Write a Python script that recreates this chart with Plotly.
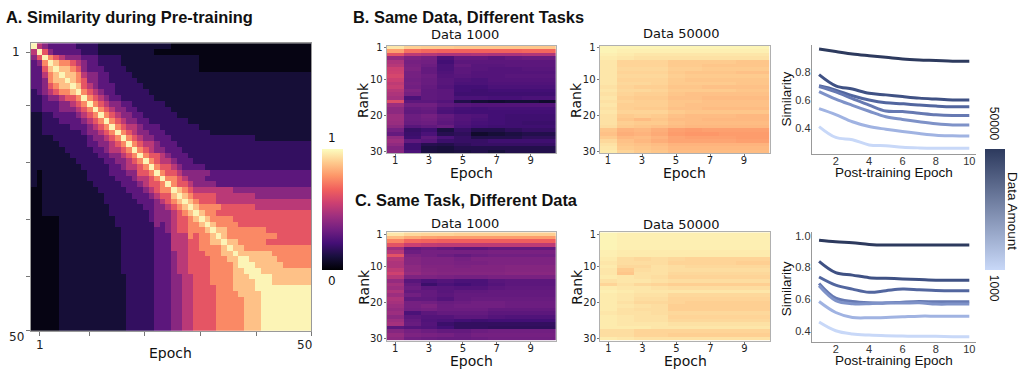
import plotly.graph_objects as go

W, H = 1023, 373

EPOCHS_PRE = list(range(1, 51))
EPOCHS_POST = list(range(1, 11))
RANKS = list(range(1, 31))

# Pre-training similarity, epoch x epoch; one level code per cell (see SIM_LEVELS)
PRETRAIN_ROWS = [
    "9543333322 2211111111 1111100000 0000000000 0000000000",
    "5964333332 2211111111 1100000000 0000000000 0000000000",
    "4697654443 3322221111 1111111111 0000000000 0000000000",
    "3479877654 3322221111 1111111111 0000000000 0000000000",
    "3368988764 3332222111 1111111111 0000000000 0000000000",
    "3357898875 4433222211 1111111111 1111111111 1111111111",
    "3347889876 4433222221 1111111111 1111111111 1111111111",
    "3346788986 5433322222 1111111111 1111111111 1111111111",
    "2345677897 6543322222 2111111111 1111111111 1111111111",
    "2234456679 7654332222 2211111111 1111111111 1111111111",
    "2233344567 9765443322 2222111111 1111111111 1111111111",
    "2233344456 7976544332 2222211111 1111111111 1111111111",
    "1122333345 6797654433 2222221111 1111111111 1111111111",
    "1122233334 5679765443 3222222211 1111111111 1111111111",
    "1122222333 4567976554 3332222222 1111111111 1111111111",
    "1122222223 4456797654 4333222222 2211111111 1111111111",
    "1111222222 3445679765 4433322222 2222222222 1111111111",
    "1111122222 3344567976 5543332222 2222222222 2222222222",
    "1111112222 2334556797 6544333222 2222222222 2222222222",
    "1111111222 2233445679 7665433322 2222222222 2222222222",
    "1111111122 2223344567 9765543332 2222222222 2222222222",
    "1111111112 2222334556 7976654333 3222222222 2222222222",
    "1011111111 2222333446 6797665444 4433333333 3333333333",
    "1011111111 2222233345 5679776544 4333333333 3333333333",
    "1011111111 1222223334 5667976654 4443333333 3333333333",
    "0011111111 1122222333 4567798765 5555554444 4444444444",
    "0011111111 1112222233 3456689876 6665555555 4444444444",
    "0011111111 1112222223 3345678987 6665555555 5555555555",
    "0011111111 1111222222 3344567898 7777666666 5555555555",
    "0011111111 1111222222 2344456789 8776666666 6666666666",
    "0000011111 1111122222 2344456678 9877776666 6666666666",
    "0000011111 1111122222 2243456677 8987777666 6666666666",
    "0000011111 1111112222 2233456677 7898877777 7766666666",
    "0000011111 1111112222 2233355576 7789877777 7777666666",
    "0000011111 1111112222 2233355566 7788988777 7766666666",
    "0000011111 1111112222 2233355566 7777898877 7777777777",
    "0000011111 1111112222 2233345566 6777889888 8887777777",
    "0000011111 1111112222 2233345566 6677788998 8888777777",
    "0000011111 1111112222 2233345566 6677778999 8888877777",
    "0000011111 1111112222 2233345566 6677778899 9888888888",
    "0000011111 1111111222 2233344556 6677778889 9998888888",
    "0000011111 1111111222 2233344556 6677778888 9998888888",
    "0000011111 1111111222 2233344556 6667778888 9999999999",
    "0000011111 1111111222 2233344556 6667777888 8999999999",
    "0000011111 1111111222 2233344556 6667777788 8999999999",
    "0000011111 1111111222 2233344556 6667777788 8999999999",
    "0000011111 1111111222 2233344556 6667777788 8999999999",
    "0000011111 1111111222 2233344556 6667777788 8999999999",
    "0000011111 1111111222 2233344556 6667777788 8999999999",
    "0000011111 1111111222 2233344556 6667777788 8999999999",
]
# similarity value represented by each level code 0..9
SIM_LEVELS = [0.03, 0.10, 0.18, 0.28, 0.39, 0.51, 0.63, 0.75, 0.87, 0.98]

# Rank x post-training epoch similarity (percent), one row per rank
B_DATA_1000 = [
    "95 90 89 89 88 88 88 88 88 88", "80 70 68 67 67 67 67 67 68 68",
    "62 52 50 48 48 49 48 48 49 49", "42 36 34 24 30 30 28 30 31 31",
    "48 34 33 22 28 28 28 28 28 28", "50 35 32 24 30 27 27 28 28 28",
    "55 36 30 24 28 27 26 26 27 27", "56 34 30 25 28 26 26 26 26 26",
    "58 34 32 26 27 26 26 27 27 27", "55 33 31 27 25 24 26 26 26 26",
    "52 34 31 27 24 24 25 25 25 25", "54 33 30 26 22 22 24 24 24 24",
    "50 36 29 28 22 21 22 22 22 22", "48 34 29 28 21 21 21 21 21 21",
    "46 24 29 28 24 24 23 23 24 24", "60 28 28 26 14 10 09 10 10 08",
    "44 33 33 29 27 26 26 26 26 26", "40 30 31 25 23 22 23 23 23 23",
    "40 29 30 24 22 22 22 22 22 22", "44 32 34 30 26 25 22 21 21 21",
    "44 32 33 29 26 24 22 21 21 21", "43 31 32 28 25 23 22 21 20 20",
    "40 27 29 31 24 22 21 21 21 21", "34 19 21 12 19 14 14 17 19 19",
    "30 20 24 15 17 08 10 12 14 14", "41 21 29 24 19 14 14 14 17 17",
    "44 29 27 20 19 19 21 21 21 21", "41 21 15 14 17 19 19 19 19 19",
    "37 21 12 11 14 14 14 14 14 14", "39 24 12 11 12 14 11 14 14 14",
]
B_DATA_50000 = [
    "98 98 98 98 98 98 98 98 98 98", "98 97 97 97 97 97 97 97 97 97",
    "97 96 95 95 95 95 95 95 95 95", "96 95 94 94 94 94 94 94 94 94",
    "95 91 91 91 89 89 89 89 88 88", "95 91 91 91 89 89 88 88 88 88",
    "95 92 92 92 90 90 89 89 89 89", "95 91 91 91 89 88 88 88 87 87",
    "95 92 92 92 90 89 89 89 89 89", "95 91 91 91 89 88 88 88 88 88",
    "95 92 92 91 89 89 89 89 88 88", "94 91 90 90 88 88 87 87 87 87",
    "95 92 92 91 89 89 89 89 88 88", "94 91 90 90 88 87 87 87 87 87",
    "95 90 89 89 87 87 86 86 86 86", "94 91 90 90 88 88 87 87 87 87",
    "95 90 90 90 88 87 87 87 87 87", "94 90 89 89 87 87 86 86 86 86",
    "95 91 91 91 89 88 88 88 88 88", "94 89 90 89 87 86 86 86 85 85",
    "94 88 86 88 86 86 85 85 85 85", "94 90 89 89 87 86 86 86 86 86",
    "93 89 88 87 86 85 85 85 85 85", "88 84 85 83 80 79 80 80 80 80",
    "87 83 84 82 79 78 78 79 79 79", "89 85 86 84 81 80 80 80 79 79",
    "92 87 85 83 81 81 81 81 80 80", "94 88 87 86 84 84 84 84 84 84",
    "95 89 88 87 85 85 85 85 85 85", "96 91 89 88 86 86 86 86 86 86",
]
C_DATA_1000 = [
    "95 92 91 91 90 90 90 90 90 90", "86 82 80 79 79 79 79 79 79 79",
    "74 68 67 66 66 66 66 66 66 66", "62 55 53 52 52 52 52 52 52 52",
    "45 30 32 30 28 28 30 30 30 30", "50 32 34 34 34 34 35 35 35 35",
    "62 36 34 32 30 32 33 33 33 33", "50 38 36 36 34 36 36 36 36 36",
    "48 38 36 36 35 35 36 36 36 36", "48 40 37 37 36 37 37 38 38 38",
    "52 40 38 37 37 37 37 38 38 38", "56 42 39 38 38 38 38 39 39 39",
    "50 36 36 35 34 34 35 35 35 35", "42 27 24 26 24 24 27 28 28 28",
    "46 30 20 24 22 24 26 28 28 28", "44 32 28 27 26 26 28 29 29 29",
    "48 30 30 27 29 29 30 30 30 30", "44 33 30 28 30 30 30 30 30 30",
    "48 29 29 26 30 31 31 31 31 31", "46 34 33 31 32 33 33 32 32 32",
    "44 34 36 32 33 33 33 32 32 32", "42 33 34 32 32 32 30 30 30 30",
    "44 24 28 30 30 30 28 28 28 28", "40 28 26 26 28 28 26 25 25 25",
    "44 30 25 24 22 21 22 22 22 22", "46 31 26 20 18 18 18 18 18 18",
    "28 26 25 22 18 18 17 17 17 17", "38 34 32 30 30 32 33 33 33 33",
    "42 36 35 34 32 34 34 34 34 34", "40 33 32 31 31 32 33 33 33 33",
]
C_DATA_50000 = [
    "98 97 97 97 97 97 97 97 97 97", "98 97 97 97 97 97 97 97 97 97",
    "98 97 97 97 97 97 97 97 97 97", "98 97 97 97 97 97 97 97 97 97",
    "98 97 97 97 97 97 97 97 97 97", "97 96 96 96 96 96 96 96 96 96",
    "97 96 96 96 96 96 96 96 96 96", "96 93 92 93 92 91 91 91 91 91",
    "95 93 93 93 91 91 91 91 90 90", "96 92 92 94 93 92 92 92 92 92",
    "95 89 93 94 93 93 93 93 93 93", "95 88 94 94 92 92 92 92 92 92",
    "96 95 94 93 91 91 91 91 91 91", "94 95 95 94 93 93 93 93 93 93",
    "91 94 92 91 90 90 90 90 90 90", "96 95 95 94 93 93 93 93 93 93",
    "97 96 95 95 95 95 95 95 95 95", "96 95 94 94 92 92 92 92 92 92",
    "96 95 93 93 91 91 91 91 91 91", "96 94 92 92 91 90 90 90 90 90",
    "96 95 94 93 90 90 90 90 90 90", "96 94 93 93 90 90 90 90 90 90",
    "95 94 94 93 92 92 92 92 92 92", "96 95 94 94 91 91 91 91 91 91",
    "96 95 94 94 92 92 92 92 92 92", "96 95 95 95 94 94 94 94 94 94",
    "96 96 96 95 95 95 95 95 95 95", "93 93 91 91 91 91 91 91 91 91",
    "93 93 91 91 90 90 90 90 90 90", "96 95 94 94 94 94 94 94 94 94",
]

# Similarity per post-training epoch, largest data amount first
B_LINES = [
    [0.960, 0.943, 0.925, 0.913, 0.902, 0.890, 0.883, 0.879, 0.874, 0.874],
    [0.779, 0.700, 0.677, 0.647, 0.636, 0.624, 0.613, 0.606, 0.600, 0.600],
    [0.700, 0.670, 0.630, 0.600, 0.580, 0.573, 0.564, 0.557, 0.552, 0.552],
    [0.695, 0.657, 0.610, 0.564, 0.522, 0.518, 0.506, 0.495, 0.490, 0.490],
    [0.659, 0.606, 0.562, 0.520, 0.481, 0.462, 0.446, 0.432, 0.423, 0.423],
    [0.539, 0.497, 0.446, 0.412, 0.393, 0.377, 0.363, 0.351, 0.347, 0.345],
    [0.412, 0.335, 0.319, 0.282, 0.277, 0.266, 0.261, 0.259, 0.259, 0.259],
]
C_LINES = [
    [0.971, 0.961, 0.955, 0.945, 0.941, 0.941, 0.941, 0.941, 0.941, 0.941],
    [0.838, 0.767, 0.752, 0.736, 0.732, 0.728, 0.724, 0.720, 0.720, 0.720],
    [0.740, 0.689, 0.664, 0.644, 0.654, 0.664, 0.660, 0.656, 0.654, 0.654],
    [0.700, 0.607, 0.586, 0.578, 0.576, 0.582, 0.586, 0.584, 0.584, 0.584],
    [0.685, 0.592, 0.572, 0.572, 0.578, 0.576, 0.578, 0.570, 0.570, 0.570],
    [0.586, 0.517, 0.486, 0.484, 0.486, 0.490, 0.494, 0.494, 0.494, 0.494],
    [0.457, 0.402, 0.382, 0.375, 0.371, 0.369, 0.367, 0.367, 0.365, 0.365],
]
LINE_COLORS = ["#2d3a5e", "#3f5184", "#52669f", "#6679b2", "#7e92c8", "#a0b3e2", "#c8d8f8"]
DATA_AMOUNT_RANGE = [1000, 50000]


def level_grid(rows):
    grid = [[SIM_LEVELS[int(ch)] for ch in r.replace(" ", "")] for r in rows]
    assert all(len(g) == 50 for g in grid) and len(grid) == 50
    return grid


def pct_grid(rows):
    grid = [[int(v) / 100 for v in r.split()] for r in rows]
    assert all(len(g) == 10 for g in grid) and len(grid) == 30
    return grid


def dom_x(left, right):
    return [left / W, right / W]


def dom_y(top, bottom):
    return [1 - bottom / H, 1 - top / H]


HEAT_FONT = "DejaVu Sans"
LINE_FONT = "Liberation Sans"

fig = go.Figure()

fig.add_trace(go.Heatmap(
    z=level_grid(PRETRAIN_ROWS), x=EPOCHS_PRE, y=EPOCHS_PRE,
    colorscale="Magma", zmin=0, zmax=1, xaxis="x", yaxis="y",
    colorbar=dict(x=322 / W, xanchor="left", y=1 - 210 / H, yanchor="middle",
                  len=124 / H, thickness=21, xpad=0, ypad=0, outlinewidth=0,
                  showticklabels=False, ticks=""),
))

heat_sets = [
    (B_DATA_1000, "x2", "y2"), (B_DATA_50000, "x3", "y3"),
    (C_DATA_1000, "x5", "y5"), (C_DATA_50000, "x6", "y6"),
]
for rows, xa, ya in heat_sets:
    fig.add_trace(go.Heatmap(
        z=pct_grid(rows), x=EPOCHS_POST, y=RANKS, colorscale="Magma",
        zmin=0, zmax=1, showscale=False, xaxis=xa, yaxis=ya,
    ))

for lines, xa, ya in [(B_LINES, "x4", "y4"), (C_LINES, "x7", "y7")]:
    for vals, col in zip(lines, LINE_COLORS):
        fig.add_trace(go.Scatter(
            x=EPOCHS_POST, y=vals, mode="lines", xaxis=xa, yaxis=ya,
            line=dict(color=col, width=3, shape="spline", smoothing=1.0),
            showlegend=False, hoverinfo="skip",
        ))

# colour key for the amount of post-training data
fig.add_trace(go.Scatter(
    x=[None, None], y=[None, None], mode="markers", xaxis="x4", yaxis="y4",
    showlegend=False, hoverinfo="skip",
    marker=dict(color=DATA_AMOUNT_RANGE, cmin=DATA_AMOUNT_RANGE[0], cmax=DATA_AMOUNT_RANGE[1],
                colorscale=[[0, LINE_COLORS[-1]], [1, LINE_COLORS[0]]], showscale=True,
                colorbar=dict(x=985 / W, xanchor="left", y=1 - 209.5 / H, yanchor="middle",
                              len=124 / H, thickness=20, xpad=0, ypad=0, outlinewidth=0,
                              showticklabels=False, ticks="")),
))

frame = dict(showline=True, mirror=True, linecolor="#b0b0b0", linewidth=1,
             showgrid=False, zeroline=False, ticks="outside", ticklen=2,
             tickcolor="#777", tickfont=dict(family=HEAT_FONT, size=10, color="#222"))

layout = dict(
    width=W, height=H, margin=dict(l=0, r=0, t=0, b=0), autosize=False,
    paper_bgcolor="white", plot_bgcolor="white", showlegend=False,
    xaxis=dict(domain=dom_x(31, 311), anchor="y", range=[0.5, 50.5],
               tickvals=[2.1, 10.9, 20.7, 30.7, 40.7, 50.5], ticktext=[""] * 6,
               **{**frame, "linecolor": "#999", "ticklen": 4}),
    yaxis=dict(domain=dom_y(40, 334), anchor="x", range=[50.5, 0.5],
               tickvals=[2.2, 11.4, 21.3, 31.2, 41.1, 50.5], ticktext=[""] * 6,
               **{**frame, "linecolor": "#999", "ticklen": 4}),
)

heat_axes = [
    ("2", dom_x(386.7, 556), dom_y(42.5, 152.7)),
    ("3", dom_x(599.5, 769.5), dom_y(42.5, 152.7)),
    ("5", dom_x(386.7, 556), dom_y(233.3, 344)),
    ("6", dom_x(600, 770), dom_y(233.3, 344)),
]
for n, dx, dy in heat_axes:
    layout["xaxis" + n] = dict(domain=dx, anchor="y" + n, range=[0.5, 10.5],
                               tickvals=[1, 3, 5, 7, 9], ticklabelstandoff=-4, **frame)
    layout["yaxis" + n] = dict(domain=dy, anchor="x" + n, range=[30.5, 0.5],
                               tickvals=[1, 10, 20, 30], ticklabelstandoff=-1, **frame)

line_ax = dict(showline=True, mirror=False, linecolor="#999", linewidth=1,
               showgrid=False, zeroline=False, ticks="",
               tickfont=dict(family=LINE_FONT, size=11, color="#333"))
for n, dy, rng, tv in [("4", dom_y(41.7, 153), [0.22, 0.99], [0.4, 0.6, 0.8]),
                       ("7", dom_y(233, 345), [0.334, 1.023], [0.4, 0.6, 0.8, 1.0])]:
    layout["xaxis" + n] = dict(domain=dom_x(811.7, 976), anchor="y" + n, range=[0.56, 10.4],
                               tickvals=[2, 4, 6, 8, 10], ticklabelstandoff=-3, **line_ax)
    layout["yaxis" + n] = dict(domain=dy, anchor="x" + n, range=rng, tickvals=tv,
                               tickformat=".1f", ticklabelstandoff=-2, **line_ax)

fig.update_layout(**layout)


def label(text, x, y, size, family, angle=0, bold=False, color="#111", anchor="center"):
    fig.add_annotation(
        text=f"<b>{text}</b>" if bold else text, x=x / W, y=1 - y / H,
        xref="paper", yref="paper", xanchor=anchor, yanchor="middle",
        showarrow=False, textangle=angle,
        font=dict(family=family, size=size, color=color),
    )


label("A. Similarity during Pre-training", 4, 13, 16.4, LINE_FONT, bold=True, anchor="left")
label("B. Same Data, Different Tasks", 351, 13, 16.4, LINE_FONT, bold=True, anchor="left")
label("C. Same Task, Different Data", 353, 200.5, 16.4, LINE_FONT, bold=True, anchor="left")

# epoch labels of the pre-training heatmap
label("1", 16.3, 49.3, 12, HEAT_FONT, color="#222")
label("50", 16, 340, 12, HEAT_FONT, color="#222")
label("1", 40, 348, 12, HEAT_FONT, color="#222")
label("50", 304.5, 348, 12, HEAT_FONT, color="#222")
label("Epoch", 170, 356.5, 14, HEAT_FONT)
label("1", 332, 137, 12, HEAT_FONT)
label("0", 332, 283, 12, HEAT_FONT)

for cx, cy, title in [(465, 31, "Data 1000"), (681, 30.5, "Data 50000"),
                      (465, 224, "Data 1000"), (681, 225.5, "Data 50000")]:
    label(title, cx, cy, 13, HEAT_FONT)
for cx, cy in [(363, 98), (576, 98), (364, 289), (577, 289)]:
    label("Rank", cx, cy, 14, HEAT_FONT, angle=-90)
for cx, cy in [(471, 173), (684, 173), (471, 365), (685, 365)]:
    label("Epoch", cx, cy, 14, HEAT_FONT)

label("Similarity", 786, 97.5, 13.5, LINE_FONT, angle=-90)
label("Similarity", 786, 291.5, 13.5, LINE_FONT, angle=-90)
label("Post-training Epoch", 894, 172, 13.5, LINE_FONT)
label("Post-training Epoch", 894, 364, 13.5, LINE_FONT)

label("50000", 994, 122.5, 12, LINE_FONT, angle=90)
label("1000", 994, 290, 12, LINE_FONT, angle=90)
label("Data Amount", 1012, 211.5, 13.5, LINE_FONT, angle=90)

fig.write_html("out.html")
